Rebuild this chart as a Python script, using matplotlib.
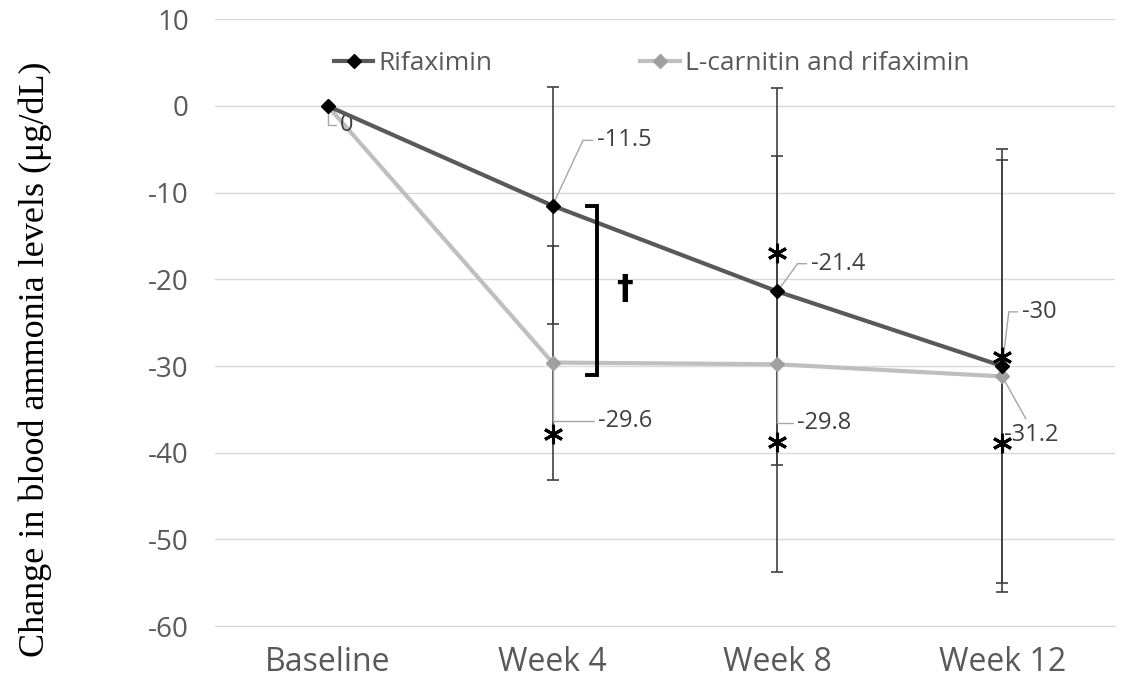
import matplotlib
matplotlib.use("Agg")
import matplotlib.pyplot as plt
import numpy as np

plt.rcParams["axes.unicode_minus"] = False

# data
weeks = ["Baseline", "Week 4", "Week 8", "Week 12"]
rif = [0, -11.5, -21.4, -30]
rif_err_low = [0, 13.7, 20.0, 25.0]
rif_err_high = [0, 13.7, 23.5, 25.0]
lcar = [0, -29.6, -29.8, -31.2]
lcar_err_low = [0, 13.5, 24.0, 24.9]
lcar_err_high = [0, 13.5, 24.0, 25.0]

# significance markers (x index, y value)
star_x = [1, 2, 2, 3, 3]
star_y = [-37.8, -17.0, -38.8, -29.0, -38.9]

GRID = "#d9d9d9"
TXT = "#595959"
SANS = ["Open Sans", "DejaVu Sans"]

fig = plt.figure(figsize=(11.27, 6.88), dpi=100)
ax = fig.add_axes([0.191, 0.090, 0.798, 0.882])
x = np.arange(len(weeks))

# error bars (weeks 4-12 only)
ax.errorbar(x[1:], rif[1:], yerr=[rif_err_low[1:], rif_err_high[1:]],
            fmt="none", ecolor="#404040", elinewidth=1.2, capsize=4,
            capthick=1.2, zorder=2)
ax.errorbar(x[1:], lcar[1:], yerr=[lcar_err_low[1:], lcar_err_high[1:]],
            fmt="none", ecolor="#404040", elinewidth=1.2, capsize=4,
            capthick=1.2, zorder=2)

l_rif, = ax.plot(x, rif, color="#595959", lw=3, marker="D", ms=7,
                 mfc="black", mec="black", zorder=4, label="Rifaximin")
l_car, = ax.plot(x, lcar, color="#bfbfbf", lw=3, marker="D", ms=7,
                 mfc="#a0a0a0", mec="#a0a0a0", zorder=3,
                 label="L-carnitin and rifaximin")

# data labels with leader lines: (offset pts, angleB)
lab_style = dict(fontsize=17, color="#404040", family=SANS, va="center")
lead = dict(arrowstyle="-", color="#a6a6a6", lw=1, shrinkA=1, shrinkB=0)

rif_offsets = [None, (32, 47, 65), (24, 20, 54), (14, 39, 83)]
car_offsets = [(9, -14, 90), (33, -42, 90), (14, -42, 90), None]

for vals, offsets in ((rif, rif_offsets), (lcar, car_offsets)):
    for i, (v, off) in enumerate(zip(vals, offsets)):
        if off is None:
            continue
        ax.annotate(f"{v:g}", xy=(x[i], v), xytext=off[:2],
                    textcoords="offset points", ha="left",
                    arrowprops=dict(**lead, relpos=(0, 0.5),
                    connectionstyle=f"angle,angleA=0,angleB={off[2]},rad=0"),
                    **lab_style)
# last light-gray label sits below-right with a straight leader
ax.annotate(f"{lcar[3]:g}", xy=(x[3], lcar[3]), xytext=(1, -42),
            textcoords="offset points", ha="left",
            arrowprops=dict(**lead, relpos=(0.45, 1.0)), **lab_style)

# stars
ax.plot(star_x, star_y, ls="none", marker=(6, 2, 0), ms=14, mew=2.2,
        color="black", zorder=6)

# bracket + dagger between groups at week 4
bx = 1.2
ax.plot([bx - 0.045, bx, bx, bx - 0.045], [rif[1], rif[1], -31.0, -31.0],
        color="black", lw=2.8, solid_joinstyle="miter", zorder=5)
ax.text(1.32, -21.2, "\u2020", fontsize=24, fontweight="bold", ha="center",
        va="center", family=["DejaVu Sans"])

ax.set_xlim(-0.5, 3.5)
ax.set_ylim(-60, 10)
ax.set_yticks(np.arange(-60, 11, 10))
ax.set_xticks(x)
ax.set_xticklabels(weeks)
ax.grid(axis="y", color=GRID, lw=1)
ax.set_axisbelow(True)
for s in ax.spines.values():
    s.set_visible(False)
ax.spines["bottom"].set_visible(True)
ax.spines["bottom"].set_color(GRID)
ax.tick_params(length=0, labelcolor=TXT)
ax.tick_params(axis="x", pad=14, labelsize=23)
ax.tick_params(axis="y", pad=19, labelsize=20)
for t in ax.get_xticklabels() + ax.get_yticklabels():
    t.set_family(SANS)

ax.set_ylabel("Change in blood ammonia levels (\u03bcg/dL)", fontsize=26,
              family=["Liberation Serif", "DejaVu Serif"])
ax.yaxis.set_label_coords(-0.182, 0.44)

ax.legend(handles=[l_rif, l_car], loc="upper left", bbox_to_anchor=(0.12, 0.965),
          ncol=2, frameon=False, handlelength=1.5, handletextpad=0.2,
          columnspacing=5.6, prop={"family": SANS, "size": 19},
          labelcolor=TXT, borderaxespad=0)

fig.savefig("out.png", dpi=100)
